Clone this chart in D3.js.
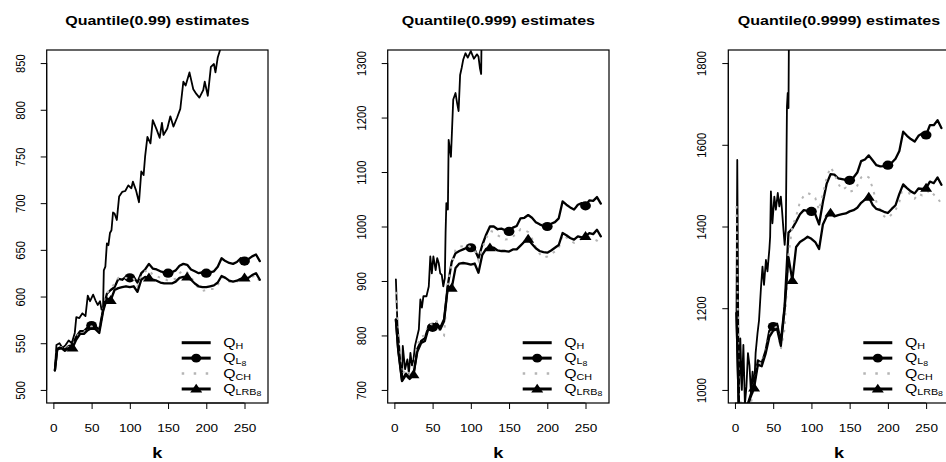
<!DOCTYPE html>
<html><head><meta charset="utf-8">
<script src="https://cdn.jsdelivr.net/npm/d3@7"></script>
<style>
body{margin:0;background:#fff}
svg{display:block}
text{font-family:"Liberation Sans",Arial,Helvetica,sans-serif;fill:#000}
</style>
</head><body>
<svg id="c" width="946" height="462"></svg>
<script>
// ---------------- DATA ----------------
const titles = ["Quantile(0.99) estimates", "Quantile(0.999) estimates", "Quantile(0.9999) estimates"];
const xLabel = "k";
const xTicks = [0, 50, 100, 150, 200, 250];
const xRange = [2, 270];
const yLim1 = [500, 850], yTicks1 = [500, 550, 600, 650, 700, 750, 800, 850];
const yLim2 = [700, 1300], yTicks2 = [700, 800, 900, 1000, 1100, 1200, 1300];
const yLim3 = [1000, 1800], yTicks3 = [1000, 1200, 1400, 1600, 1800];

// common k grid for Q_L8, Q_CH, Q_LRB8
const kGrid = [2,5,10,15,20,25,30,35,40,45,
  50,55,60,65,70,75,80,85,90,95,
  100,105,110,115,120,125,130,135,140,145,
  150,155,160,165,170,175,180,185,190,195,
  200,205,210,215,220,225,230,235,240,245,
  250,255,260,265,270];
const circleK = [50, 100, 150, 200, 250];
const triangleK = [25, 75, 125, 175, 250];

// Panel 1
const kH1 = [2,4,8,12,16,20,24,28,30,34, 38,42,45,48,52,55,58,61,63,65, 66,68,70,72,74,76,78,80,83,86,
  90,94,98,102,104,108,112,115,118,120, 123,127,130,135,139,142,144,149,153,157, 162,166,170,173,178,183,187,191,196,198, 202,206,210,212,215,218,220];
const qH1 = [521,548,550,545,548,553,550,561,578,577, 582,579,601,595,602,596,591,595,586,589, 628,632,657,655,668,671,690,689,682,707,
  712,713,719,716,723,714,701,734,730,750, 771,764,789,779,770,786,773,780,793,782, 792,801,830,826,840,822,817,813,821,830, 815,846,849,840,856,864,880];
const qL8_1 = [521,544,546,543,547,548,557,563,563,567,
  569,568,564,586,603,607,610,619,618,621,
  620,621,615,625,629,635,630,629,627,626,
  625,626,628,633,635,634,629,627,625,626,
  625,626,627,632,641,638,636,635,637,641,
  638,640,643,645,638];
const qLRB8_1 = [521,543,545,542,545,545,554,560,560,564,
  566,565,561,584,598,596,607,609,610,611,
  610,611,605,618,621,620,618,617,615,614,
  614,614,616,620,621,621,618,614,611,610,
  610,611,612,615,622,620,617,616,617,619,
  620,620,623,625,618];
const qCH_1 = [521,545,546,543,546,547,556,562,562,566,
  568,566,562,585,604,608,614,620,619,620,
  618,619,611,622,627,629,623,622,620,619,
  617,618,619,625,628,626,621,614,609,606,
  607,608,608,612,621,619,616,615,616,618,
  619,618,621,623,616];

// Panel 2
const kH2 = [2,4,6,8,10,11,14,17,19,21, 23,25,27,30,32,34,36,38,42,45, 47,49,51,54,56,58,60,62,64,66,
  67,68,70,71,74,77,80,82,84,86, 88,90,93,96,100,104,108,110,112,113.5, 114];
const qH2 = [903,820,787,744,720,781,738,756,730,768, 745,756,781,799,811,866,851,872,872,890, 945,914,945,920,942,933,914,911,890,905,
  990,1043,1031,1159,1128,1233,1245,1227,1212,1278, 1291,1306,1318,1310,1322,1308,1316,1312,1290,1280, 1340];
const qL8_2 = [829,775,718,730,722,728,775,790,795,818,
  815,823,814,830,893,935,951,955,958,961,
  961,958,942,966,985,1000,1000,995,996,993,
  991,998,1001,1015,1016,1021,1016,1008,1004,1001,
  1000,1005,1008,1015,1046,1040,1035,1031,1040,1043,
  1038,1048,1047,1054,1042];
const qLRB8_2 = [829,773,716,727,720,728,770,786,790,815,
  812,820,811,826,890,887,924,932,933,932,
  930,932,915,948,959,961,961,956,955,955,
  954,958,958,965,972,977,968,960,955,953,
  952,956,961,966,988,984,979,976,982,980,
  982,988,986,994,982];
const qCH_2 = [880,800,728,738,730,738,782,798,800,822,
  820,828,805,800,897,930,958,963,964,966,
  962,958,938,960,978,992,990,984,980,976,
  977,982,986,995,993,990,978,962,950,943,
  945,950,954,960,985,980,974,970,975,977,
  976,980,977,974,965];

// Panel 3
const kH3 = [2,3,5,7,9,11,13,15,17,19, 21,23,25,27,29.5,31.5,34,36,38,40.5, 42.5,45,46,47,49,51.5,53.5,56,58,60, 61.5,63.5,65,66.5,68,69,70,70.5];
const qH3 = [1190,1563,955,1126,1000,1110,965,1008,1090,1060, 990,1045,1000,1090,1139,1171,1250,1302,1257,1318, 1290,1345,1375,1486,1408,1473,1441,1482,1449,1473, 1441,1390,1355,1392,1694,1727,1690,1850];
const qL8_3 = [1188,960,945,955,985,1015,1072,1066,1095,1145,
  1155,1162,1118,1205,1385,1395,1412,1430,1440,1438,
  1437,1430,1405,1460,1505,1528,1527,1518,1516,1514,
  1513,1520,1532,1560,1564,1574,1562,1550,1547,1548,
  1550,1556,1566,1585,1632,1622,1614,1608,1622,1628,
  1624,1648,1648,1660,1641];
const qLRB8_3 = [1188,958,942,950,980,1005,1062,1058,1088,1130,
  1145,1150,1108,1200,1325,1268,1350,1362,1368,1375,
  1370,1362,1345,1405,1425,1433,1425,1428,1430,1432,
  1437,1440,1446,1458,1466,1472,1453,1443,1440,1436,
  1433,1443,1452,1480,1503,1494,1486,1481,1493,1492,
  1494,1510,1506,1520,1502];
const qCH_3 = [1450,990,950,945,960,1005,1070,1063,1095,1135,
  1150,1155,1100,1150,1330,1400,1425,1460,1475,1482,
  1478,1470,1440,1480,1520,1545,1530,1505,1490,1495,
  1485,1488,1500,1520,1525,1520,1495,1460,1440,1425,
  1420,1430,1440,1460,1500,1490,1475,1468,1480,1476,
  1480,1490,1478,1470,1455];

const legendMain = "Q";
const legendSub = ["H", "L", "CH", "LRB"];
const legendSubSub = ["", "8", "", "8"];

// ---------------- LAYOUT ----------------
const SX = 1.17;           // horizontal stretch of the original raster text
const plotW = 221.3, plotTop = 50, plotBottom = 403;
const lefts = [46.7, 387.7, 728.3];
const CH_COLOR = "#b5b5b5";

const panels = [
  {title: titles[0], yLim: yLim1, yTicks: yTicks1, kH: kH1, qH: qH1, L8: qL8_1, LRB: qLRB8_1, CH: qCH_1},
  {title: titles[1], yLim: yLim2, yTicks: yTicks2, kH: kH2, qH: qH2, L8: qL8_2, LRB: qLRB8_2, CH: qCH_2},
  {title: titles[2], yLim: yLim3, yTicks: yTicks3, kH: kH3, qH: qH3, L8: qL8_3, LRB: qLRB8_3, CH: qCH_3}
];

const svg = d3.select("#c");
svg.append("rect").attr("width", 946).attr("height", 462).attr("fill", "#fff");
const defs = svg.append("defs");

function ext(a) { const d = (a[1] - a[0]) * 0.04; return [a[0] - d, a[1] + d]; }
const triPath = "M0,-5.3L6,3.6L-6,3.6Z";

panels.forEach((p, i) => {
  const left = lefts[i], right = left + plotW;
  const x = d3.scaleLinear().domain(ext(xRange)).range([left, right]);
  const y = d3.scaleLinear().domain(ext(p.yLim)).range([plotBottom, plotTop]);
  const g = svg.append("g");

  // title
  g.append("text")
    .attr("transform", `translate(${(left + right) / 2},25) scale(${SX},1)`)
    .attr("text-anchor", "middle").attr("font-weight", "bold").attr("font-size", 13.7)
    .text(p.title);

  // clip
  defs.append("clipPath").attr("id", "clip" + i).append("rect")
    .attr("x", left).attr("y", plotTop).attr("width", plotW).attr("height", plotBottom - plotTop);
  const pg = g.append("g").attr("clip-path", `url(#clip${i})`);

  const line = d3.line().x(d => x(d[0])).y(d => y(d[1]));
  const ser = arr => kGrid.map((k, j) => [k, arr[j]]);

  // Q_H
  pg.append("path").datum(p.kH.map((k, j) => [k, p.qH[j]]))
    .attr("d", line).attr("fill", "none").attr("stroke", "#000").attr("stroke-width", 1.8)
    .attr("stroke-linejoin", "round").attr("stroke-linecap", "round");
  // Q_L8
  pg.append("path").datum(ser(p.L8))
    .attr("d", line).attr("fill", "none").attr("stroke", "#000").attr("stroke-width", 2.3)
    .attr("stroke-linejoin", "round").attr("stroke-linecap", "round");
  pg.selectAll(".circ").data(circleK.map(k => [k, p.L8[kGrid.indexOf(k)]])).enter()
    .append("ellipse").attr("cx", d => x(d[0])).attr("cy", d => y(d[1]))
    .attr("rx", 5.4).attr("ry", 4.6).attr("fill", "#000");
  // Q_CH
  pg.append("path").datum(ser(p.CH))
    .attr("d", line).attr("fill", "none").attr("stroke", CH_COLOR).attr("stroke-width", 2)
    .attr("stroke-dasharray", "2.5,6");
  // Q_LRB8
  pg.append("path").datum(ser(p.LRB))
    .attr("d", line).attr("fill", "none").attr("stroke", "#000").attr("stroke-width", 2.3)
    .attr("stroke-linejoin", "round").attr("stroke-linecap", "round");
  pg.selectAll(".tri").data(triangleK.map(k => [k, p.LRB[kGrid.indexOf(k)]])).enter()
    .append("path").attr("d", triPath)
    .attr("transform", d => `translate(${x(d[0])},${y(d[1])})`).attr("fill", "#000");

  // box
  g.append("rect").attr("x", left).attr("y", plotTop).attr("width", plotW).attr("height", plotBottom - plotTop)
    .attr("fill", "none").attr("stroke", "#000").attr("stroke-width", 1.2);

  // x axis
  const xa = g.append("g").attr("transform", `translate(0,${plotBottom})`)
    .call(d3.axisBottom(x).tickValues(xTicks).tickSize(6).tickSizeOuter(0).tickFormat(d3.format("d")));
  xa.select(".domain").attr("d", `M${x(xTicks[0])},0H${x(xTicks[xTicks.length - 1])}`).attr("stroke-width", 1);
  xa.selectAll(".tick line").attr("stroke-width", 1);
  xa.selectAll(".tick text").attr("y", 0).attr("dy", 0)
    .attr("transform", `translate(0,28.7) scale(${SX},1)`)
    .attr("font-size", 11.6).attr("font-family", "Liberation Sans, Arial, sans-serif").attr("fill", "#000");

  // y axis
  const ya = g.append("g").attr("transform", `translate(${left},0)`)
    .call(d3.axisLeft(y).tickValues(p.yTicks).tickSize(6).tickSizeOuter(0).tickFormat(d3.format("d")));
  ya.select(".domain").attr("d", `M0,${y(p.yTicks[0])}V${y(p.yTicks[p.yTicks.length - 1])}`).attr("stroke-width", 1);
  ya.selectAll(".tick line").attr("stroke-width", 1);
  ya.selectAll(".tick text").attr("x", 0).attr("y", 0).attr("dy", 0).attr("text-anchor", "middle")
    .attr("transform", `translate(-22,0) scale(${SX},1) rotate(-90)`)
    .attr("font-size", 11.3).attr("font-family", "Liberation Sans, Arial, sans-serif").attr("fill", "#000");

  // x label
  g.append("text")
    .attr("transform", `translate(${(left + right) / 2},458) scale(${SX},1)`)
    .attr("text-anchor", "middle").attr("font-size", 15.5).attr("font-weight", "bold").text(xLabel);

  // legend
  const lx1 = right - 86.3, lx2 = right - 57.3, tx = right - 44.7;
  legendSub.forEach((s, r) => {
    const ly = 342.7 + r * 15.43;
    const lg = g.append("g");
    if (r === 2) {
      lg.append("line").attr("x1", lx1).attr("x2", lx2 + 2).attr("y1", ly).attr("y2", ly)
        .attr("stroke", CH_COLOR).attr("stroke-width", 2.5).attr("stroke-dasharray", "2.5,9.5");
    } else {
      lg.append("line").attr("x1", lx1).attr("x2", lx2).attr("y1", ly).attr("y2", ly)
        .attr("stroke", "#000").attr("stroke-width", 3);
    }
    const cx = (lx1 + lx2) / 2;
    if (r === 1) lg.append("ellipse").attr("cx", cx).attr("cy", ly).attr("rx", 5).attr("ry", 4.3).attr("fill", "#000");
    if (r === 3) lg.append("path").attr("d", triPath).attr("transform", `translate(${cx},${ly})`).attr("fill", "#000");
    const t = lg.append("text").attr("transform", `translate(${tx},${ly + 4}) scale(${SX},1)`);
    t.append("tspan").attr("font-size", 13.5).text(legendMain);
    t.append("tspan").attr("font-size", 9.2).attr("dy", 2).text(s);
    if (legendSubSub[r]) t.append("tspan").attr("font-size", 7.5).attr("dy", 1.5).text(legendSubSub[r]);
  });
});
</script>
</body></html>
